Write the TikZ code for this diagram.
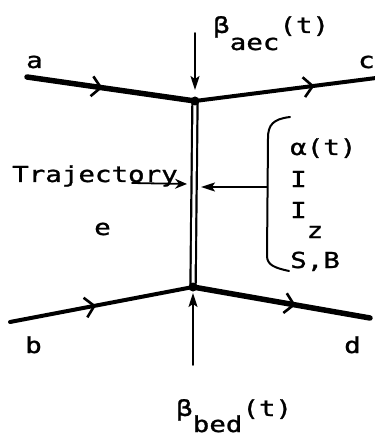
\documentclass[tikz,border=0pt]{standalone}
\usepackage{fontspec}
\newfontfamily\typefont{DejaVu Sans Mono}[FakeStretch=1.25,FakeBold=1.2]
\usetikzlibrary{arrows.meta,decorations.markings}

\newcommand{\dnidx}[2][17pt]{\raisebox{-#1}{#2}}

\begin{document}
\begin{tikzpicture}[
    x=1pt, y=-1pt,
    font=\typefont\fontsize{22}{26}\selectfont,
    lbl/.style={anchor=base west, inner sep=0pt},
    dot/.style={circle, fill=black, inner sep=0pt, minimum size=9pt},
    heavy/.style={line width=5.5pt},
    medium/.style={line width=4pt},
    midarrow/.style={postaction={decorate}, decoration={markings,
        mark=at position #1 with {\arrow{Straight Barb[length=9pt,width=20pt,line width=2.6pt]}}}},
    pointer/.style={line width=1.8pt, -{Stealth[length=14pt,width=9pt,inset=3pt]}},
    line cap=round
]

    \useasboundingbox (0,0) rectangle (374,438);

    % Coordinates
    \coordinate (top) at (195,101);
    \coordinate (bot) at (193,287);
    \coordinate (a_end) at (27,77);
    \coordinate (c_end) at (376,78);
    \coordinate (b_end) at (10,322);
    \coordinate (d_end) at (370,318);

    % Particle lines
    \draw[heavy, midarrow=0.45] (a_end) -- (top);
    \draw[medium, midarrow=0.66] (top) -- (c_end);
    \draw[medium, midarrow=0.47] (b_end) -- (bot);
    \draw[heavy, midarrow=0.58] (bot) -- (d_end);

    % Trajectory
    \draw[double, line width=2.2pt, double distance=3pt, line cap=butt] (top) -- (bot);
    \node[dot] (vtop) at (top) {};
    \node[dot] (vbot) at (bot) {};

    % Labels
    \node[lbl] (la) at (26,68) {a};
    \node[lbl] (lc) at (358,68) {c};
    \node[lbl] (lb) at (25,353) {b};
    \node[lbl] (ld) at (344,353) {d};
    \node[lbl] (le) at (94,235) {e};
    \node[lbl] (traj) at (12,182) {Trajectory};

    \node[lbl] (baec) at (213,33) {β\dnidx{aec}(t)};
    \node[lbl] (bbed) at (176,416) {β\dnidx[16pt]{bed}(t)};

    \node[lbl] (alpha) at (290,155) {α(t)};
    \node[lbl] (inert) at (290,187) {I};
    \node[lbl] (inertz) at (290,218) {I\dnidx[20pt]{z}};
    \node[lbl] (sb) at (290,268) {S,B};

    % Arrows
    \coordinate (baec_tail) at (195,33);
    \coordinate (baec_tip) at (195,90);
    \coordinate (bbed_tail) at (193,365);
    \coordinate (bbed_tip) at (193,293);
    \coordinate (traj_tail) at (132,183);
    \coordinate (traj_tip) at (187,184);
    \coordinate (brace_mid) at (267,187);
    \coordinate (brace_tip) at (201,187);

    \draw[pointer] (baec_tail) -- (baec_tip);
    \draw[pointer] (bbed_tail) -- (bbed_tip);
    \draw[pointer, -{Stealth[length=12pt,width=10pt,inset=4pt]}] (traj_tail) -- (traj_tip);
    \draw[pointer] (brace_mid) -- (brace_tip);

    % Bracket
    \draw[line width=2pt] (290,117) .. controls (273,119) and (268,125) .. (268,138)
        -- (267,256) .. controls (267,265) and (275,268) .. (289,271);

\end{tikzpicture}
\end{document}
